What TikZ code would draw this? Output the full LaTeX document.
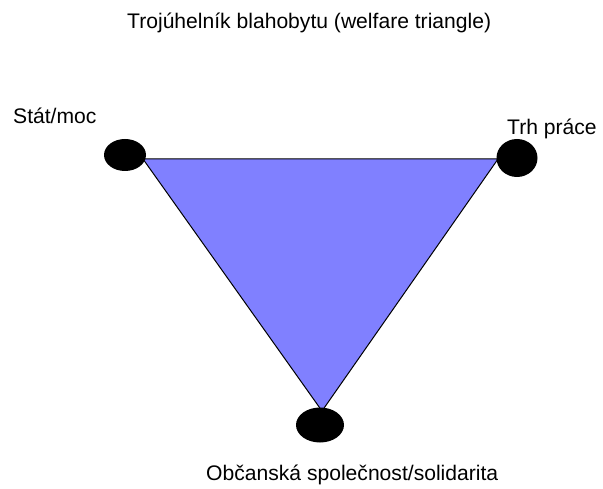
\documentclass[tikz,border=0pt]{standalone}
\usepackage{fontspec}
\setmainfont{Liberation Sans}
\usetikzlibrary{shapes.geometric}
\definecolor{trifill}{RGB}{128,128,255}
\tikzset{
  lbl/.style={inner sep=0pt, anchor=base west, font=\fontsize{21.1}{25}\selectfont, text=black},
  dot/.style={ellipse, fill=black, draw=none, inner sep=0pt},
  tri/.style={fill=trifill, draw=black, line width=1pt, line join=miter}
}
\begin{document}
\begin{tikzpicture}[x=1pt, y=-1pt]
\useasboundingbox (0,0) rectangle (603,489);
\coordinate (tl) at (143,159);
\coordinate (tr) at (498,159);
\coordinate (tb) at (322,411);
\draw[tri] (tl) -- (tr) -- (tb) -- cycle;
\node[dot, minimum width=42pt, minimum height=32pt] (stat) at (125,155) {};
\node[dot, minimum width=41pt, minimum height=38pt] (trh) at (517,158) {};
\node[dot, minimum width=48pt, minimum height=35pt] (obc) at (320,425) {};
\node[lbl] (title) at (127,29) {Trojúhelník blahobytu (welfare triangle)};
\node[lbl] (lstat) at (13,124) {Stát/moc};
\node[lbl] (ltrh) at (507,135) {Trh práce};
\node[lbl] (lobc) at (206,480) {Občanská společnost/solidarita};
\end{tikzpicture}
\end{document}
